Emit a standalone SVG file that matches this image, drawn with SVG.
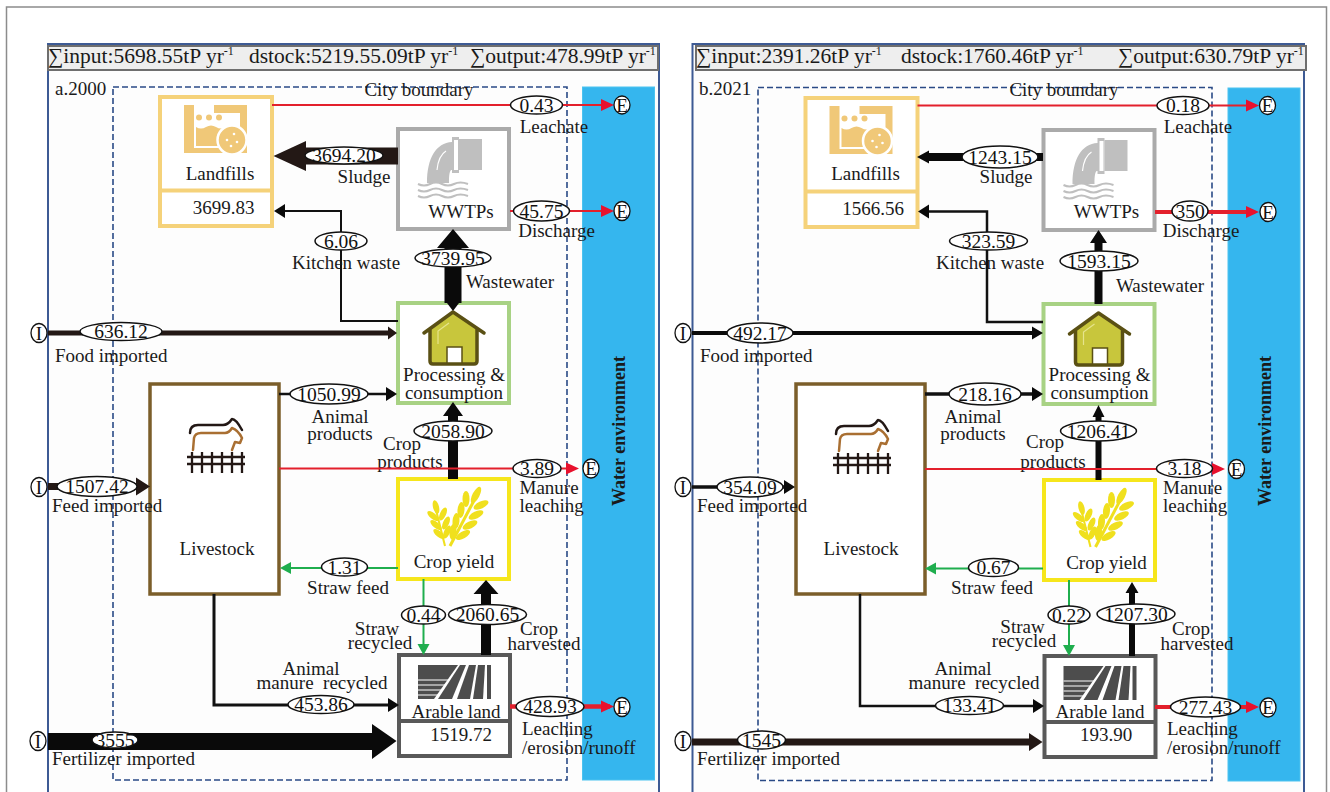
<svg xmlns="http://www.w3.org/2000/svg" width="1330" height="792" viewBox="0 0 1330 792">
<style>
text{font-family:"Liberation Serif","Times New Roman",serif;font-size:19px;fill:#1a1a1a}
.m{text-anchor:middle}
.h{font-size:21.5px}
.s{font-size:12px}
.w{font-size:18px;font-weight:bold}
.ov{fill:#fff;stroke:#111;stroke-width:1.5}
.v{text-anchor:middle;font-size:19.5px;fill:#111}
.pt{fill:#fff;stroke:#111;stroke-width:1.3}
.pl{text-anchor:middle;font-size:19px;fill:#111}
.frame{fill:#fdfdfd;stroke:#3d5a94;stroke-width:2}
.hdr{fill:#eeeeee;stroke:#6e6e6e;stroke-width:2}
.city{fill:none;stroke:#2a4a86;stroke-width:1.6;stroke-dasharray:6 3}
.water{fill:#35b6ee;stroke:#4cc3ef;stroke-width:1}
.box{fill:#fff;stroke-width:4}
.lf{stroke:#f5d27a}.ww{stroke:#aaaaaa}.pc{stroke:#a8d284}.ls{stroke:#7b5e2a;stroke-width:3.5}.cy{stroke:#f6e61c}.al{stroke:#595959}
.l{fill:none;stroke-linecap:butt;stroke-linejoin:miter}
.k{stroke:#111}.r{stroke:#e3202c}.g{stroke:#1fae4e}
.fk{fill:#0a0a0a}.fd{fill:#231815}
</style>
<defs>
<marker id="headR" markerUnits="userSpaceOnUse" markerWidth="14" markerHeight="14" refX="9" refY="7" orient="auto"><path d="M0 1L13 7L0 13Z" fill="#e8112d"/></marker>
<marker id="headG" markerUnits="userSpaceOnUse" markerWidth="12" markerHeight="14" refX="8" refY="7" orient="auto"><path d="M0 1L11 7L0 13Z" fill="#1fae4e"/></marker>
<marker id="headK" markerUnits="userSpaceOnUse" markerWidth="12" markerHeight="16" refX="8" refY="8" orient="auto"><path d="M0 1L11 8L0 15Z" fill="#0a0a0a"/></marker>
<g id="iLandfill">
<path fill-rule="evenodd" d="M184 105H194V113H214V105H247V153H184ZM194 113V148H240V113Z" fill="#f0c878"/>
<path d="M196 127q5 3 10 0t10 0t10 0t9 0V146H196Z" fill="#f0c878"/>
<g fill="#f0c878"><circle cx="199" cy="117.500" r="3"/><circle cx="209" cy="117.500" r="3"/><circle cx="219" cy="117.500" r="3"/></g>
<circle cx="232" cy="140" r="14.500" fill="#f0c878" stroke="#fff" stroke-width="2.500"/>
<g fill="#fff"><circle cx="227" cy="140" r="1.300"/><circle cx="234" cy="134" r="1.300"/><circle cx="237" cy="142" r="1.300"/><circle cx="231" cy="146" r="1.300"/></g>
</g>
<g id="iPipe" fill="#bfbfbf">
<path d="M459 139H482V170H459Z"/>
<path d="M452 137H459V173H452V170H451C449 172 449 178 449 183H427C427 158 436 143 452 142Z"/>
<path d="M454 140H458V170H454Z" fill="#fff"/>
<path d="M437 170C438 160 441 154 446 151" fill="none" stroke="#fff" stroke-width="1.200"/>
<path d="M418 184q6 3 12 0t12 0t12 0t14 0M418 190q6 3 12 0t12 0t12 0t14 0M418 196q6 3 12 0t12 0t12 0t14 0" fill="none" stroke="#bfbfbf" stroke-width="2"/>
</g>
<g id="iHouse">
<path d="M430 329L453 312L477 329V361Q477 364 474 364H433Q430 364 430 361Z" fill="#c8c63c"/>
<path d="M424 333L453 312L484 333M430 329V361Q430 364 433 364H474Q477 364 477 361V329" fill="none" stroke="#5a5014" stroke-width="3.500" stroke-linejoin="round" stroke-linecap="round"/>
<rect x="447" y="347" width="15" height="16" fill="#fff" stroke="#5a5014" stroke-width="1.500"/>
<path d="M438 344V331L449 323" fill="none" stroke="#e6e48c" stroke-width="1.200"/>
</g>
<g id="iCow" fill="none" stroke-linecap="round" stroke-linejoin="round">
<path d="M190 433Q190 425 198 425H223Q228 425 232 419Q236 419 242 430" stroke="#231815" stroke-width="2.500"/>
<path d="M193 450L194 438Q195 433 201 433H225Q229 433 232 428Q238 430 242 438L240 443L235 442L232 450" stroke="#a96f32" stroke-width="2.500"/>
<path d="M187 457H245M187 464H245M192 452V473M202 452V473M212 452V473M222 452V473M232 452V473M242 452V473" stroke="#231815" stroke-width="2.300" stroke-linecap="butt"/>
</g>
<g id="iWheat" fill="#f0e01e">
<path d="M445 546L436 510" stroke="#f0e01e" stroke-width="2" fill="none"/>
<path d="M450 546L478 493" stroke="#f0e01e" stroke-width="3" fill="none"/>
<ellipse cx="436" cy="507" rx="3" ry="7" transform="rotate(-14 436 507)"/>
<ellipse cx="433" cy="516" rx="3" ry="7" transform="rotate(-50 433 516)"/>
<ellipse cx="443" cy="514" rx="3" ry="7" transform="rotate(25 443 514)"/>
<ellipse cx="436" cy="525" rx="3" ry="7" transform="rotate(-50 436 525)"/>
<ellipse cx="446" cy="523" rx="3" ry="7" transform="rotate(25 446 523)"/>
<ellipse cx="439" cy="534" rx="3" ry="7" transform="rotate(-50 439 534)"/>
<ellipse cx="447" cy="532" rx="3" ry="7" transform="rotate(25 447 532)"/>
<ellipse cx="476" cy="495" rx="3.500" ry="9" transform="rotate(28 476 495)"/>
<ellipse cx="466" cy="499" rx="3.500" ry="8" transform="rotate(0 466 499)"/>
<ellipse cx="481" cy="505" rx="3.500" ry="8" transform="rotate(65 481 505)"/>
<ellipse cx="461" cy="510" rx="3.500" ry="8" transform="rotate(5 461 510)"/>
<ellipse cx="476" cy="515" rx="3.500" ry="8" transform="rotate(65 476 515)"/>
<ellipse cx="456" cy="521" rx="3.500" ry="8" transform="rotate(5 456 521)"/>
<ellipse cx="470" cy="525" rx="3.500" ry="8" transform="rotate(65 470 525)"/>
<ellipse cx="453" cy="532" rx="3.500" ry="8" transform="rotate(5 453 532)"/>
<ellipse cx="463" cy="535" rx="3.500" ry="8" transform="rotate(60 463 535)"/>
</g>
<g id="iLand" fill="#4d4d4d">
<path d="M418 665H458L434 699H418Z"/>
<path d="M460 665H466L452 699H438Z"/>
<path d="M469 665H476L470 699H457Z"/>
<path d="M478 665H485L483 699H473Z"/>
<path d="M487 665H491V699H487Z"/>
<path d="M418 680H449M418 685H446M418 690H442M418 695H440" stroke="#fff" stroke-width="1.200"/>
</g>
</defs>

<rect width="1330" height="792" fill="#fff"/>
<path d="M6.500 792V7H1326.500V792" fill="none" stroke="#8c8c8c" stroke-width="1.500"/>

<!-- panel a background -->
<g id="panel-a">
<path class="frame" d="M48 792V44H659V792"/>
<rect class="hdr" x="48" y="46" width="610" height="24"/>
<text class="h" x="48" y="63">∑input:5698.55tP yr<tspan class="s" dy="-8">-1</tspan></text>
<text class="h" x="249" y="63">dstock:5219.55.09tP yr<tspan class="s" dy="-8">-1</tspan></text>
<text class="h" x="470" y="63">∑output:478.99tP yr<tspan class="s" dy="-8">-1</tspan></text>
<text x="55" y="95">a.2000</text>
<rect class="water" x="582.500" y="87" width="72" height="693"/>
<text class="w m" transform="translate(625 431) rotate(-90)">Water environment</text>
<rect class="city" x="113" y="87" width="454" height="693"/>
<text class="m" x="419" y="96">City boundary</text>
</g>

<!-- panel b background -->
<g id="panel-b">
<path class="frame" d="M692.500 792V44H1304V792"/>
<rect class="hdr" x="696" y="46" width="610" height="24"/>
<text class="h" x="696" y="63">∑input:2391.26tP yr<tspan class="s" dy="-8">-1</tspan></text>
<text class="h" x="901" y="63">dstock:1760.46tP yr<tspan class="s" dy="-8">-1</tspan></text>
<text class="h" x="1118" y="63">∑output:630.79tP yr<tspan class="s" dy="-8">-1</tspan></text>
<text x="699" y="95">b.2021</text>
<rect class="water" x="1228" y="88" width="72" height="693"/>
<text class="w m" transform="translate(1271 431) rotate(-90)">Water environment</text>
<rect class="city" x="758" y="87.500" width="454" height="693"/>
<text class="m" x="1064" y="96">City boundary</text>
</g>

<!-- nodes panel a -->
<g id="a-landfills"><rect class="box lf" x="160" y="97" width="112" height="129"/><path class="lf" stroke-width="4" d="M160 190.500H272"/><use href="#iLandfill"/><text class="m" x="220" y="180">Landfills</text><text class="m" x="223.500" y="214">3699.83</text></g>
<g id="a-wwtps"><rect class="box ww" x="398" y="129" width="111" height="100"/><use href="#iPipe"/><text class="m" x="461" y="218">WWTPs</text></g>
<g id="a-processing"><rect class="box pc" x="398" y="303" width="111" height="100"/><use href="#iHouse"/><text class="m" x="454" y="381">Processing &amp;</text><text class="m" x="454" y="399">consumption</text></g>
<g id="a-livestock"><rect class="box ls" x="150" y="384" width="129" height="210"/><use href="#iCow"/><text class="m" x="217" y="555">Livestock</text></g>
<g id="a-crop"><rect class="box cy" x="398" y="479" width="111" height="100"/><use href="#iWheat"/><text class="m" x="454" y="568">Crop yield</text></g>
<g id="a-arable"><rect class="box al" x="399" y="655" width="111" height="101"/><path class="al" stroke-width="4" d="M399 721H510"/><use href="#iLand"/><text class="m" x="456" y="718">Arable land</text><text class="m" x="461" y="741">1519.72</text></g>

<!-- nodes panel b -->
<g id="b-landfills"><rect class="box lf" x="805.500" y="98" width="112" height="129"/><path class="lf" stroke-width="4" d="M805.500 191.500H917.500"/><use href="#iLandfill" transform="translate(645.500 1)"/><text class="m" x="865.500" y="180">Landfills</text><text class="m" x="873" y="215">1566.56</text></g>
<g id="b-wwtps"><rect class="box ww" x="1043.500" y="130" width="111" height="100"/><use href="#iPipe" transform="translate(645.500 1)"/><text class="m" x="1106.500" y="218">WWTPs</text></g>
<g id="b-processing"><rect class="box pc" x="1043.500" y="304" width="111" height="100"/><use href="#iHouse" transform="translate(645.500 1)"/><text class="m" x="1099.500" y="381">Processing &amp;</text><text class="m" x="1099.500" y="399">consumption</text></g>
<g id="b-livestock"><rect class="box ls" x="796" y="384" width="129" height="210"/><use href="#iCow" transform="translate(646 1)"/><text class="m" x="861" y="555">Livestock</text></g>
<g id="b-crop"><rect class="box cy" x="1044" y="480" width="111" height="100"/><use href="#iWheat" transform="translate(645.500 1)"/><text class="m" x="1106.500" y="569">Crop yield</text></g>
<g id="b-arable"><rect class="box al" x="1044.500" y="656" width="111" height="101"/><path class="al" stroke-width="4" d="M1044.500 722H1155.500"/><use href="#iLand" transform="translate(645.500 1)"/><text class="m" x="1100" y="718">Arable land</text><text class="m" x="1106" y="741">193.90</text></g>

<g id="connectors">
<!-- panel a -->
<g id="a-leachate"><path class="l r" stroke-width="2" d="M272 105H610" marker-end="url(#headR)"/><ellipse class="ov" cx="536.500" cy="105" rx="26" ry="9"/><text class="v" x="536.500" y="111.500">0.43</text><ellipse class="pt" cx="622" cy="105" rx="8" ry="9"/><text class="pl" x="622" y="111.500">E</text><text class="m" x="554" y="133">Leachate</text></g>
<g id="a-sludge"><path class="fd" d="M398 147.500H306V141L273.500 156L306 171V164.500H398Z"/><ellipse class="ov" cx="344" cy="155.500" rx="39" ry="8.500"/><text class="v" x="344" y="162">3694.20</text><text class="m" x="364" y="183">Sludge</text></g>
<g id="a-discharge"><path class="l r" stroke-width="2" d="M510 211H610" marker-end="url(#headR)"/><ellipse class="ov" cx="541.500" cy="211" rx="28" ry="10"/><text class="v" x="541.500" y="217.500">45.75</text><ellipse class="pt" cx="622" cy="211" rx="8" ry="9.500"/><text class="pl" x="622" y="217.500">E</text><text class="m" x="556.500" y="237">Discharge</text></g>
<g id="a-kitchen"><path class="l k" stroke-width="2" d="M398 321H341V211H277" marker-end="url(#headK)"/><ellipse class="ov" cx="341" cy="241" rx="26" ry="9"/><text class="v" x="341" y="247.500">6.06</text><text class="m" x="346" y="269">Kitchen waste</text></g>
<g id="a-wastewater"><path class="fk" d="M444.500 303V248H437L453 229L469 248H461.500V303Z"/><path class="fk" d="M447 303H459L453 311Z"/><ellipse class="ov" cx="453" cy="258" rx="38" ry="9"/><text class="v" x="453" y="264.500">3739.95</text><text class="m" x="510" y="288">Wastewater</text></g>
<g id="a-food"><path class="fd" d="M48 330.500H388V326.500L397 333L388 339.500V335.500H48Z"/><ellipse class="ov" cx="121" cy="331.500" rx="41" ry="9"/><text class="v" x="121" y="338">636.12</text><ellipse class="pt" cx="39" cy="333" rx="8" ry="9.500"/><text class="pl" x="39" y="339.500">I</text><text x="55" y="362">Food imported</text></g>
<g id="a-animal"><path class="l k" stroke-width="2.500" d="M279 394H394" marker-end="url(#headK)"/><ellipse class="ov" cx="329" cy="394" rx="39" ry="10"/><text class="v" x="329" y="400.500">1050.99</text><text class="m" x="340" y="423">Animal</text><text class="m" x="340" y="440">products</text></g>
<g id="a-cropprod"><path class="fk" d="M448 479V416H443L453 402L463 416H458V479Z"/><ellipse class="ov" cx="453" cy="431" rx="39" ry="10"/><text class="v" x="453" y="437.500">2058.90</text><text class="m" x="402" y="450">Crop</text><text class="m" x="410" y="468">products</text></g>
<g id="a-manure"><path class="l r" stroke-width="1.800" d="M279 468.500H575" marker-end="url(#headR)"/><ellipse class="ov" cx="537" cy="468.500" rx="24" ry="9"/><text class="v" x="537" y="475">3.89</text><ellipse class="pt" cx="591" cy="468.500" rx="8" ry="9.500"/><text class="pl" x="591" y="475">E</text><text x="519.500" y="494">Manure</text><text x="519.500" y="512">leaching</text></g>
<g id="a-feed"><path class="fd" d="M48 483H136V477.500L150 486.500L136 495.500V490H48Z"/><ellipse class="ov" cx="97" cy="486.500" rx="40" ry="10"/><text class="v" x="97" y="493">1507.42</text><ellipse class="pt" cx="39" cy="487" rx="8" ry="9.500"/><text class="pl" x="39" y="493.500">I</text><text x="52" y="512">Feed imported</text></g>
<g id="a-strawfeed"><path class="l g" stroke-width="2" d="M398 568H283" marker-end="url(#headG)"/><ellipse class="ov" cx="344.500" cy="567" rx="23" ry="9"/><text class="v" x="344.500" y="573.500">1.31</text><text class="m" x="348" y="594">Straw feed</text></g>
<g id="a-strawrec"><path class="l g" stroke-width="2" d="M423.500 579V652" marker-end="url(#headG)"/><ellipse class="ov" cx="423.500" cy="615" rx="22" ry="9"/><text class="v" x="423.500" y="621.500">0.44</text><text class="m" x="377" y="635">Straw</text><text class="m" x="380" y="649">recycled</text></g>
<g id="a-harvest"><path class="fk" d="M481 655V594H473.500L486 580L498.500 594H491V655Z"/><ellipse class="ov" cx="487.500" cy="614.500" rx="39" ry="10"/><text class="v" x="487.500" y="621">2060.65</text><text class="m" x="539" y="635">Crop</text><text class="m" x="544" y="650">harvested</text></g>
<g id="a-manurerec"><path class="l k" stroke-width="3" d="M214 594V705H396" marker-end="url(#headK)"/><ellipse class="ov" cx="321" cy="704.500" rx="33" ry="9"/><text class="v" x="321" y="711">453.86</text><text class="m" x="311" y="675">Animal</text><text class="m" x="322" y="689" xml:space="preserve">manure  recycled</text></g>
<g id="a-leaching"><path class="l r" stroke-width="4.500" d="M510 706.500H610" marker-end="url(#headR)"/><ellipse class="ov" cx="550" cy="706.500" rx="34" ry="10"/><text class="v" x="550" y="713">428.93</text><ellipse class="pt" cx="622" cy="707" rx="8" ry="9.500"/><text class="pl" x="622" y="713.500">E</text><text x="522" y="735">Leaching</text><text x="522" y="754">/erosion/runoff</text></g>
<g id="a-fertilizer"><path class="fk" d="M48 733H372V724L396.500 741L372 759V750H48Z"/><ellipse class="ov" cx="115" cy="740" rx="23" ry="8"/><text class="v" x="115" y="746.500">3555</text><ellipse class="pt" cx="38" cy="741" rx="8" ry="9.500"/><text class="pl" x="38" y="747.500">I</text><text x="52" y="765">Fertilizer imported</text></g>

<!-- panel b -->
<g id="b-leachate"><path class="l r" stroke-width="2" d="M917.500 105.500H1255" marker-end="url(#headR)"/><ellipse class="ov" cx="1183" cy="105.500" rx="26" ry="9"/><text class="v" x="1183" y="112">0.18</text><ellipse class="pt" cx="1267.500" cy="105.500" rx="8" ry="9"/><text class="pl" x="1267.500" y="112">E</text><text class="m" x="1198" y="133">Leachate</text></g>
<g id="b-sludge"><path class="fk" d="M1043 153H929V150.500L917 157L929 163.500V161H1043Z"/><ellipse class="ov" cx="1000" cy="157" rx="38" ry="11"/><text class="v" x="1000" y="163.500">1243.15</text><text class="m" x="1006" y="183">Sludge</text></g>
<g id="b-discharge"><path class="l r" stroke-width="4" d="M1155 212H1255" marker-end="url(#headR)"/><ellipse class="ov" cx="1190" cy="211" rx="18" ry="10"/><text class="v" x="1190" y="217.500">350</text><ellipse class="pt" cx="1268" cy="212" rx="8" ry="9.500"/><text class="pl" x="1268" y="218.500">E</text><text class="m" x="1201" y="237">Discharge</text></g>
<g id="b-kitchen"><path class="l k" stroke-width="2.500" d="M1043 322H987V211.500H921" marker-end="url(#headK)"/><ellipse class="ov" cx="988.500" cy="241" rx="39" ry="9"/><text class="v" x="988.500" y="247.500">323.59</text><text class="m" x="990" y="269">Kitchen waste</text></g>
<g id="b-wastewater"><path class="fk" d="M1094.500 304V243H1090L1098.500 230L1107 243H1102.500V304Z"/><ellipse class="ov" cx="1099" cy="261" rx="39" ry="10"/><text class="v" x="1099" y="267.500">1593.15</text><text class="m" x="1160" y="292">Wastewater</text></g>
<g id="b-food"><path class="fk" d="M692 331H1032V326.500L1043 333L1032 339.500V335H692Z"/><ellipse class="ov" cx="760" cy="333" rx="33" ry="10"/><text class="v" x="760" y="339.500">492.17</text><ellipse class="pt" cx="683" cy="333" rx="8" ry="9.500"/><text class="pl" x="683" y="339.500">I</text><text x="700" y="362">Food imported</text></g>
<g id="b-animal"><path class="l k" stroke-width="3.500" d="M925 394H1040" marker-end="url(#headK)"/><ellipse class="ov" cx="985" cy="394" rx="36" ry="11"/><text class="v" x="985" y="400.500">218.16</text><text class="m" x="973" y="423">Animal</text><text class="m" x="973" y="440">products</text></g>
<g id="b-cropprod"><path class="fk" d="M1095.500 480V417H1092.500L1098.500 405L1104.500 417H1101.500V480Z"/><ellipse class="ov" cx="1098.500" cy="431" rx="38" ry="10"/><text class="v" x="1098.500" y="437.500">1206.41</text><text class="m" x="1045" y="448">Crop</text><text class="m" x="1053" y="468">products</text></g>
<g id="b-manure"><path class="l r" stroke-width="1.800" d="M925 469H1221" marker-end="url(#headR)"/><ellipse class="ov" cx="1184.500" cy="468.500" rx="28" ry="9"/><text class="v" x="1184.500" y="475">3.18</text><ellipse class="pt" cx="1236.500" cy="469" rx="8" ry="9.500"/><text class="pl" x="1236.500" y="475.500">E</text><text x="1163" y="494">Manure</text><text x="1163" y="512">leaching</text></g>
<g id="b-feed"><path class="l k" stroke-width="3.500" d="M692 487H792" marker-end="url(#headK)"/><ellipse class="ov" cx="750" cy="487" rx="33" ry="10"/><text class="v" x="750" y="493.500">354.09</text><ellipse class="pt" cx="683" cy="487" rx="8" ry="9.500"/><text class="pl" x="683" y="493.500">I</text><text x="697" y="512">Feed imported</text></g>
<g id="b-strawfeed"><path class="l g" stroke-width="2" d="M1043 568.500H928" marker-end="url(#headG)"/><ellipse class="ov" cx="993.500" cy="567.500" rx="25" ry="9"/><text class="v" x="993.500" y="574">0.67</text><text class="m" x="992" y="594">Straw feed</text></g>
<g id="b-strawrec"><path class="l g" stroke-width="2" d="M1069 580V653" marker-end="url(#headG)"/><ellipse class="ov" cx="1069" cy="615" rx="21" ry="9"/><text class="v" x="1069" y="621.500">0.22</text><text class="m" x="1022.500" y="633">Straw</text><text class="m" x="1024" y="647">recycled</text></g>
<g id="b-harvest"><path class="fk" d="M1129 656V593H1125.500L1132 582L1138.500 593H1135V656Z"/><ellipse class="ov" cx="1136" cy="614" rx="39" ry="10"/><text class="v" x="1136" y="620.500">1207.30</text><text class="m" x="1191" y="635">Crop</text><text class="m" x="1197" y="650">harvested</text></g>
<g id="b-manurerec"><path class="l k" stroke-width="2.500" d="M860 594V706H1041" marker-end="url(#headK)"/><ellipse class="ov" cx="969.500" cy="705.500" rx="34" ry="9"/><text class="v" x="969.500" y="712">133.41</text><text class="m" x="963" y="675">Animal</text><text class="m" x="974" y="689" xml:space="preserve">manure  recycled</text></g>
<g id="b-leaching"><path class="l r" stroke-width="4" d="M1155 707H1255" marker-end="url(#headR)"/><ellipse class="ov" cx="1205.500" cy="707" rx="35" ry="10"/><text class="v" x="1205.500" y="713.500">277.43</text><ellipse class="pt" cx="1268" cy="707.500" rx="8" ry="9.500"/><text class="pl" x="1268" y="714">E</text><text x="1167" y="735">Leaching</text><text x="1167" y="754">/erosion/runoff</text></g>
<g id="b-fertilizer"><path class="fd" d="M692 738.500H1029V733L1042.500 742L1029 751V745.500H692Z"/><ellipse class="ov" cx="761.500" cy="740" rx="24" ry="9"/><text class="v" x="761.500" y="746.500">1545</text><ellipse class="pt" cx="683" cy="741" rx="8" ry="9.500"/><text class="pl" x="683" y="747.500">I</text><text x="697" y="765">Fertilizer imported</text></g>
</g>
</svg>
